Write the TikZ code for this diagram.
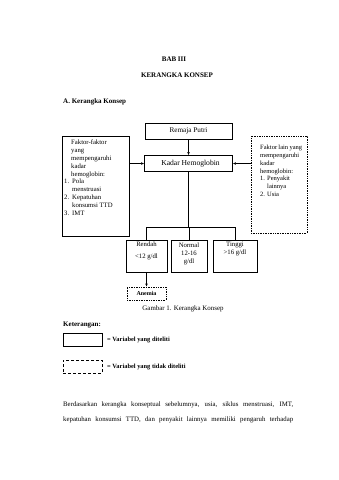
\documentclass[tikz,border=0pt]{standalone}
\usepackage{fontspec}
\setmainfont{Liberation Serif}
\usetikzlibrary{arrows.meta}
\newcommand{\itm}[1]{\makebox[8pt][l]{#1}}
\begin{document}
\begin{tikzpicture}[x=1pt,y=-1pt,
  box/.style={draw, line width=0.7pt, inner sep=0pt},
  dotbox/.style={draw, line width=0.7pt, densely dotted, inner sep=0pt},
  txt/.style={font=\fontsize{6.7}{7.8}\selectfont, inner sep=0pt},
  head/.style={font=\bfseries\fontsize{7}{8}\selectfont, inner sep=0pt},
  arr/.style={-{Latex[length=3pt,width=2.6pt]}, line width=0.5pt},
  ln/.style={line width=0.5pt}]
\useasboundingbox[fill=white] (0,0) rectangle (339,480);

% headings
\node[head] (bab) at (174,59) {BAB III};
\node[head] (judul) at (177,75) {KERANGKA KONSEP};
\node[head, anchor=west] (subjudul) at (63,102) {A. Kerangka Konsep};

% main boxes
\node[box, minimum width=87pt, minimum height=16pt] (remaja) at (188.5,131) {};
\node[txt, font=\fontsize{7.2}{8}\selectfont] (remajaT) at (remaja.center) {Remaja Putri};
\node[box, minimum width=88pt, minimum height=16pt] (kadar) at (188.5,163.5) {};
\node[txt, font=\fontsize{7.6}{8}\selectfont] (kadarT) at ([xshift=2pt]kadar.center) {Kadar Hemoglobin};

\node[box, minimum width=67pt, minimum height=100pt] (lbox) at (95.5,186) {};
\node[txt, anchor=north west, align=left] (lboxT) at (64,140) {%
\hspace*{7pt}Faktor-faktor\\
\hspace*{7pt}yang\\
\hspace*{7pt}mempengaruhi\\
\hspace*{7pt}kadar\\
\hspace*{7pt}hemoglobin:\\
\itm{1.}Pola\\
\hspace*{8pt}menstruasi\\
\itm{2.}Kepatuhan\\
\hspace*{8pt}konsumsi TTD\\
\itm{3.}IMT};

\node[dotbox, minimum width=56pt, minimum height=97pt] (rbox) at (279,184.5) {};
\node[txt, anchor=north west, align=left, font=\fontsize{6.5}{7.8}\selectfont] (rboxT) at (260,145) {%
\makebox[42pt][s]{Faktor\ lain\ yang}\\
mempengaruhi\\
kadar\\
hemoglobin:\\
\makebox[7pt][l]{1.}Penyakit\\
\hspace*{7pt}lainnya\\
\makebox[7pt][l]{2.}Usia};

% outcome boxes
\node[box, minimum width=41pt, minimum height=32pt] (rendah) at (146.5,256) {};
\node[txt, anchor=north, align=center, font=\fontsize{6.7}{12}\selectfont] (rendahT) at (146.5,242) {Rendah\\<12 g/dl};
\node[box, minimum width=36pt, minimum height=32pt] (normal) at (189,256) {};
\node[txt, anchor=north, align=center, font=\fontsize{6.7}{7.8}\selectfont] (normalT) at (189,243) {Normal\\12-16\\g/dl};
\node[box, minimum width=44pt, minimum height=32pt] (tinggi) at (235,256) {};
\node[txt, anchor=north, align=center, font=\fontsize{6.7}{7.8}\selectfont] (tinggiT) at (235,242) {Tinggi\\>16 g/dl};

\node[dotbox, minimum width=39pt, minimum height=13pt] (anemia) at (146.5,293.5) {};
\node[txt, font=\bfseries\fontsize{6}{7}\selectfont] (anemiaT) at (anemia.center) {Anemia};

\node[txt, font=\fontsize{6.9}{8}\selectfont] (caption) at (183,309) {Gambar 1. Kerangka Konsep};

% connectors
\draw[arr] (remaja.south) -- (kadar.north);
\draw[arr] (lbox.east |- kadar.west) -- (kadar.west);
\draw[arr] (rbox.west |- kadar.east) -- (kadar.east);
\coordinate (bus) at (0,227);
\draw[ln] (kadar.south) -- (kadar.south |- bus);
\draw[ln] (rendah.north) -- (rendah.north |- bus) -- (tinggi.north |- bus) -- (tinggi.north);
\draw[ln] (normal.north) -- (normal.north |- bus);
\draw[arr] (rendah.south) -- (anemia.north);

% legend
\node[head, anchor=west] (ket) at (63,325) {Keterangan:};
\node[draw, line width=1pt, inner sep=0pt, minimum width=39pt, minimum height=13pt] (leg1) at (82.5,339.5) {};
\node[txt, anchor=west, font=\bfseries\fontsize{6.4}{7}\selectfont] (leg1T) at (107,340) {= Variabel yang diteliti};
\node[draw, line width=1pt, dash pattern=on 3pt off 2pt, inner sep=0pt, minimum width=39pt, minimum height=13pt] (leg2) at (82.5,366.5) {};
\node[txt, anchor=west, font=\bfseries\fontsize{6.4}{7}\selectfont] (leg2T) at (107,367) {= Variabel yang tidak diteliti};

% paragraph
\node[txt, anchor=west, font=\fontsize{6.8}{8}\selectfont] (par1) at (63,405) {\makebox[230pt][s]{Berdasarkan kerangka konseptual sebelumnya, usia, siklus menstruasi, IMT,}};
\node[txt, anchor=west, font=\fontsize{6.8}{8}\selectfont] (par2) at (63,420) {\makebox[230pt][s]{kepatuhan konsumsi TTD, dan penyakit lainnya memiliki pengaruh terhadap}};
\end{tikzpicture}
\end{document}
